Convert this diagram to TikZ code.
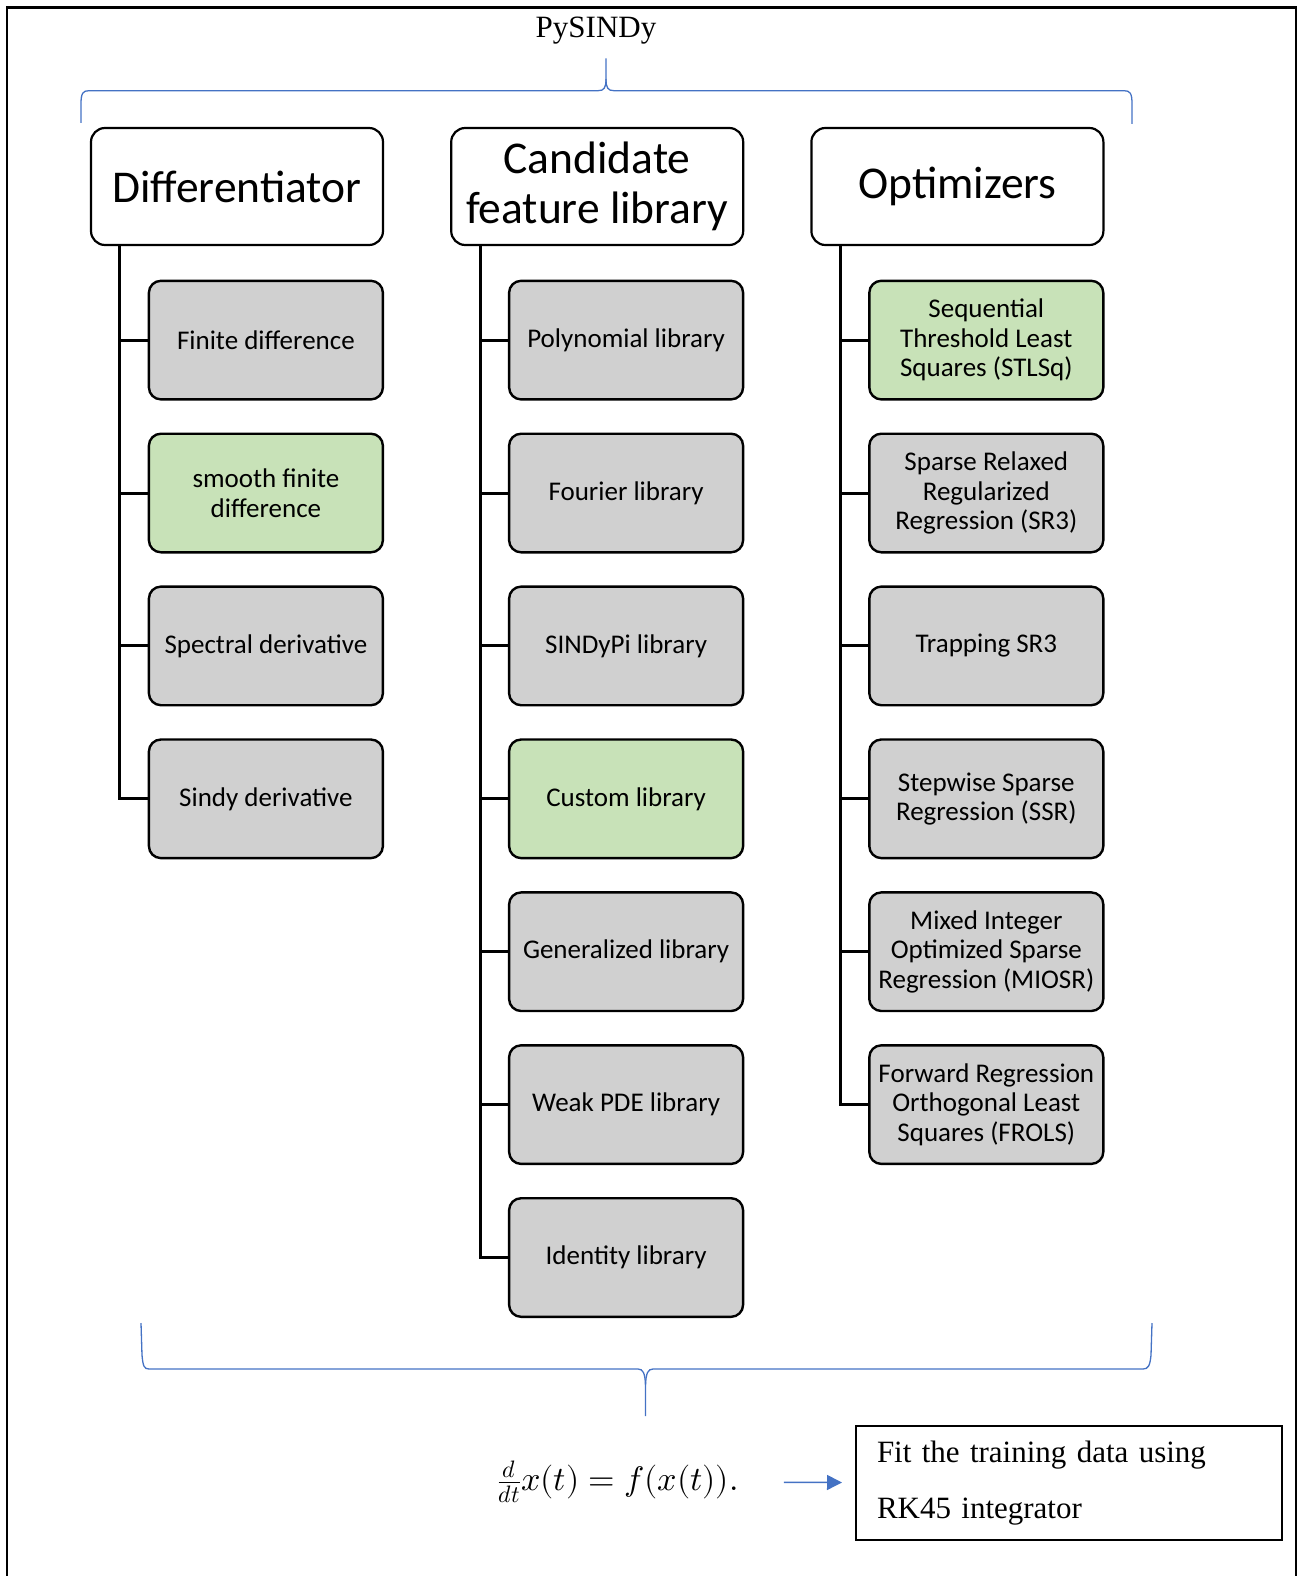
\documentclass[tikz,border=0pt]{standalone}
\usepackage{fontspec}
\usepackage{unicode-math}
\setmainfont{Liberation Serif}
\setmathfont{Latin Modern Math}
\newfontfamily\carlito{Carlito}
\usetikzlibrary{positioning, arrows.meta, calc}
\definecolor{leafgray}{HTML}{D0D0D0}
\definecolor{leafgreen}{HTML}{C8E2B8}
\definecolor{braceblue}{HTML}{4472C4}

\begin{document}
\begin{tikzpicture}[x=1pt, y=1pt,
  header/.style={rectangle, draw=black, line width=2.2pt, fill=white, rounded corners=14pt, minimum width=292pt, minimum height=117pt, align=center, font=\carlito\fontsize{45.5}{49.5}\selectfont},
  leaf/.style={rectangle, draw=black, line width=2.4pt, fill=leafgray, rounded corners=12pt, minimum width=234pt, minimum height=118.6pt, inner sep=4pt, align=center, font=\carlito\fontsize{27}{29.5}\selectfont},
  greenleaf/.style={leaf, fill=leafgreen},
  trunk/.style={line width=3pt, draw=black},
  brace/.style={line width=1.3pt, draw=braceblue},
  fitbox/.style={rectangle, draw=black, line width=2pt, text width=384pt, inner xsep=21pt, minimum height=114pt, align=left, font=\fontsize{31}{56}\selectfont},
  arrow/.style={-{Triangle[length=15pt, width=15pt]}, line width=1.5pt, draw=braceblue},
  node distance=31.9pt
]
  \useasboundingbox (0,0) rectangle (1303,-1576);

  % Outer frame
  \draw[line width=2.4pt] (7,-1590) |- (1296,-7.5) -- (1296,-1590);

  % Title and top brace
  \node[font=\fontsize{31}{36}\selectfont] (title) at (596,-31) {PySINDy};
  \draw[brace] (81,-123) -- (81,-104) .. controls (81,-93) and (83,-90.7) .. (89,-90.7) -- (598,-90.7) .. controls (604,-90.7) and (606,-88) .. (606,-79) -- (606,-58.5);
  \draw[brace] (606,-79) .. controls (606,-88) and (608,-90.7) .. (614,-90.7) -- (1124,-90.7) .. controls (1130,-90.7) and (1132,-93) .. (1132,-104) -- (1132,-124);

  % Headers
  \node[header] (diff) at (237,-186.5) {Differentiator};
  \node[header, right=66pt of diff] (cand) {Candidate\\feature library};
  \node[header, right=66pt of cand] (opt) {Optimizers};

  % Differentiator column
  \node[leaf, below=33.5pt of diff.south east, anchor=north east] (fd) {Finite difference};
  \node[greenleaf, below=of fd] (sfd) {smooth finite\\difference};
  \node[leaf, below=of sfd] (sd) {Spectral derivative};
  \node[leaf, below=of sd] (sid) {Sindy derivative};

  % Library column
  \node[leaf, below=33.5pt of cand.south east, anchor=north east] (poly) {Polynomial library};
  \node[leaf, below=of poly] (fourier) {Fourier library};
  \node[leaf, below=of fourier] (pi) {SINDyPi library};
  \node[greenleaf, below=of pi] (custom) {Custom library};
  \node[leaf, below=of custom] (gen) {Generalized library};
  \node[leaf, below=of gen] (weak) {Weak PDE library};
  \node[leaf, below=of weak] (ident) {Identity library};

  % Optimizer column
  \node[greenleaf, below=33.5pt of opt.south east, anchor=north east] (stlsq) {Sequential\\Threshold Least\\Squares (STLSq)};
  \node[leaf, below=of stlsq] (sr3) {Sparse Relaxed\\Regularized\\Regression (SR3)};
  \node[leaf, below=of sr3] (tsr3) {Trapping SR3};
  \node[leaf, below=of tsr3] (ssr) {Stepwise Sparse\\Regression (SSR)};
  \node[leaf, below=of ssr] (miosr) {Mixed Integer\\Optimized Sparse\\Regression (MIOSR)};
  \node[leaf, below=of miosr] (frols) {Forward Regression\\Orthogonal Least\\Squares (FROLS)};

  % Trunks
  \coordinate (dtop) at ($(diff.south west)+(30,0)$);
  \coordinate (ctop) at ($(cand.south west)+(30,0)$);
  \coordinate (otop) at ($(opt.south west)+(30,0)$);
  \foreach \n in {fd,sfd,sd,sid} \draw[trunk] (dtop) |- (\n.west);
  \foreach \n in {poly,fourier,pi,custom,gen,weak,ident} \draw[trunk] (ctop) |- (\n.west);
  \foreach \n in {stlsq,sr3,tsr3,ssr,miosr,frols} \draw[trunk] (otop) |- (\n.west);

  % Bottom brace
  \draw[brace] (141,-1323) -- (142,-1355) .. controls (143,-1366) and (144,-1369) .. (149,-1369) -- (638,-1369) .. controls (643,-1369) and (645,-1373) .. (645.5,-1385) -- (645.5,-1416);
  \draw[brace] (645.5,-1385) .. controls (646,-1373) and (648,-1369) .. (653,-1369) -- (1143,-1369) .. controls (1148,-1369) and (1150,-1366) .. (1151,-1355) -- (1152,-1323);

  % Model and fit
  \node[font=\fontsize{34}{40}\selectfont, inner sep=0pt] (eq) at (618,-1482) {$\frac{d}{dt}x(t)=f(x(t)).$};
  \node[fitbox] (fit) at (1069,-1483) {Fit the training data using\\RK45 integrator};
  \draw[arrow, shorten <=45pt, shorten >=13pt] (eq) -- (fit);
\end{tikzpicture}
\end{document}
